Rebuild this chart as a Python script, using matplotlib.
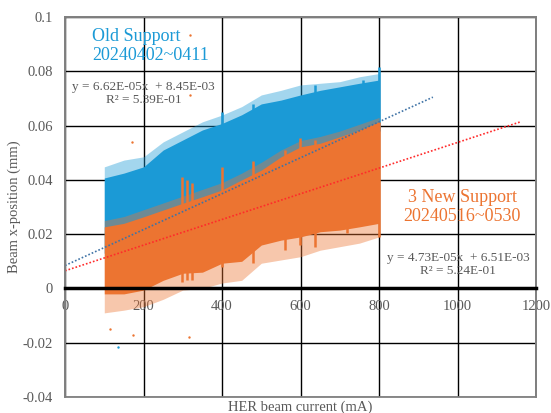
import matplotlib.pyplot as plt
from matplotlib.patches import Rectangle

plt.rcParams['font.family'] = ['Liberation Serif', 'DejaVu Serif']

# envelope of the point clouds (HER current in mA)
cur = [100, 150, 200, 250, 300, 350, 400, 450, 500, 550, 600, 650, 700, 750, 800]

old_top_sparse = [0.0448, 0.0473, 0.0485, 0.0540, 0.0577, 0.0614, 0.0639, 0.0670,
                  0.0713, 0.0730, 0.0750, 0.0756, 0.0762, 0.0780, 0.0792]
old_top = [0.0407, 0.0425, 0.0448, 0.0510, 0.0547, 0.0584, 0.0608, 0.0640,
           0.0680, 0.0694, 0.0713, 0.0730, 0.0743, 0.0756, 0.0768]
old_bot = [0.0130, 0.0140, 0.0160, 0.0190, 0.0210, 0.0240, 0.0260, 0.0300,
           0.0340, 0.0380, 0.0420, 0.0430, 0.0450, 0.0480, 0.0510]

new_top_sparse = [0.0250, 0.0265, 0.0290, 0.0315, 0.0340, 0.0365, 0.0390, 0.0425,
                  0.0465, 0.0510, 0.0545, 0.0560, 0.0580, 0.0605, 0.0630]
new_top = [0.0227, 0.0240, 0.0264, 0.0289, 0.0314, 0.0338, 0.0363, 0.0400,
           0.0436, 0.0485, 0.0522, 0.0535, 0.0559, 0.0584, 0.0614]
new_bot = [-0.0020, -0.0020, -0.0006, 0.0030, 0.0056, 0.0060, 0.0093, 0.0100,
           0.0160, 0.0178, 0.0190, 0.0209, 0.0215, 0.0227, 0.0240]
new_bot_sparse = [-0.0090, -0.0080, -0.0067, -0.0040, -0.0006, 0.0000, 0.0020, 0.0030,
                  0.0093, 0.0105, 0.0117, 0.0141, 0.0154, 0.0167, 0.0190]

# vertical streaks (current, low, high)
old_spike_x = [300, 318, 400, 479, 560, 637, 717, 760, 800]
old_spike_hi = [0.051, 0.050, 0.065, 0.068, 0.0675, 0.075, 0.073, 0.0768, 0.0817]
old_spike_lo = [0.030, 0.030, 0.040, 0.045, 0.048, 0.052, 0.055, 0.057, 0.058]

new_spike_x = [298, 310, 323, 400, 479, 560, 599, 637, 717, 800]
new_spike_hi = [0.041, 0.040, 0.039, 0.0448, 0.047, 0.051, 0.0554, 0.0547, 0.056, 0.0614]
new_spike_lo = [0.0025, 0.003, 0.003, 0.008, 0.0093, 0.014, 0.016, 0.0154, 0.0203, 0.019]

# stray points
old_out_x = [135]
old_out_y = [-0.0215]
new_out_x = [115, 174, 316, 318, 318, 171]
new_out_y = [-0.015, -0.017, -0.018, 0.0934, 0.0712, 0.054]

# trend lines
old_fit = (6.62e-05, 8.45e-03)
new_fit = (4.73e-05, 6.51e-03)
old_fit_x = [0, 937]
new_fit_x = [0, 1161]

blue = '#1b9ad6'
orange = '#ec7431'
gray = '#595959'

fig = plt.figure(figsize=(5.51, 4.13), dpi=100)
ax = fig.add_axes([0.118, 0.0387, 0.855, 0.920])

# old support cloud
ax.fill_between(cur, old_bot, old_top_sparse, color=blue, alpha=0.4, lw=0, zorder=2)
ax.fill_between(cur, old_bot, old_top, color=blue, alpha=1.0, lw=0, zorder=2)
ax.vlines(old_spike_x, old_spike_lo, old_spike_hi, color=blue, lw=1.8, zorder=2)
ax.scatter(old_out_x, old_out_y, s=3, color=blue, lw=0, zorder=2)

# new support cloud
ax.fill_between(cur, new_bot_sparse, new_top_sparse, color=orange, alpha=0.4, lw=0, zorder=3)
ax.fill_between(cur, new_bot, new_top, color=orange, alpha=1.0, lw=0, zorder=3)
ax.vlines(new_spike_x, new_spike_lo, new_spike_hi, color=orange, lw=1.8, zorder=3)
ax.scatter(new_out_x, new_out_y, s=3, color=orange, lw=0, zorder=3)

ax.plot(old_fit_x, [old_fit[0] * x + old_fit[1] for x in old_fit_x],
        ls=(0, (1, 1.2)), color='#3f73a6', lw=1.2, zorder=4)
ax.plot(new_fit_x, [new_fit[0] * x + new_fit[1] for x in new_fit_x],
        ls=(0, (1, 1.2)), color='#ff2a2a', lw=1.2, zorder=4)

ax.set_xlim(0, 1200)
ax.set_ylim(-0.04, 0.1)
xt = [0, 200, 400, 600, 800, 1000, 1200]
yt = [-0.04, -0.02, 0, 0.02, 0.04, 0.06, 0.08, 0.1]
ax.set_xticks(xt)
ax.set_xticklabels([str(v) for v in xt])
ax.set_yticks(yt)
ax.set_yticklabels(['-0.04', '-0.02', '0', '0.02', '0.04', '0.06', '0.08', '0.1'])
ax.grid(True, color='black', lw=1.0, zorder=1)
ax.set_axisbelow(True)
ax.tick_params(length=0, labelsize=10.5, colors=gray)
ax.tick_params(axis='x', pad=8)
ax.tick_params(axis='y', pad=9)

for s in ['top', 'left', 'right']:
    ax.spines[s].set_color('#808080')
    ax.spines[s].set_linewidth(1.3)
ax.spines['bottom'].set_position(('data', 0))
ax.spines['bottom'].set_color('black')
ax.spines['bottom'].set_linewidth(2.5)
ax.spines['bottom'].set_zorder(5)
ax.add_patch(Rectangle((0, 0), 1, 1, transform=ax.transAxes, fill=False,
                       ec='#808080', lw=1.3, clip_on=False, zorder=5))

ax.set_xlabel('HER beam current (mA)', fontsize=10.5, color=gray, labelpad=0)
ax.xaxis.set_label_coords(0.5, -0.008)
ax.set_ylabel('Beam x-position (mm)', fontsize=10.5, color=gray)
ax.yaxis.set_label_coords(-0.094, 0.5)

ax.text(0.057, 0.924, 'Old Support\n20240402~0411', transform=ax.transAxes,
        color=blue, fontsize=13, ha='left', va='center', linespacing=1.15, zorder=6)
ax.text(0.167, 0.799, 'y = 6.62E-05x  + 8.45E-03\nR² = 5.39E-01', transform=ax.transAxes,
        color=gray, fontsize=9.5, ha='center', va='center', linespacing=1.15, zorder=6)
ax.text(0.843, 0.499, '3 New Support\n20240516~0530', transform=ax.transAxes,
        color=orange, fontsize=13, ha='center', va='center', linespacing=1.15, zorder=6)
ax.text(0.834, 0.349, 'y = 4.73E-05x  + 6.51E-03\nR² = 5.24E-01', transform=ax.transAxes,
        color=gray, fontsize=9.5, ha='center', va='center', linespacing=1.15, zorder=6)

fig.savefig('out.png', dpi=100)
